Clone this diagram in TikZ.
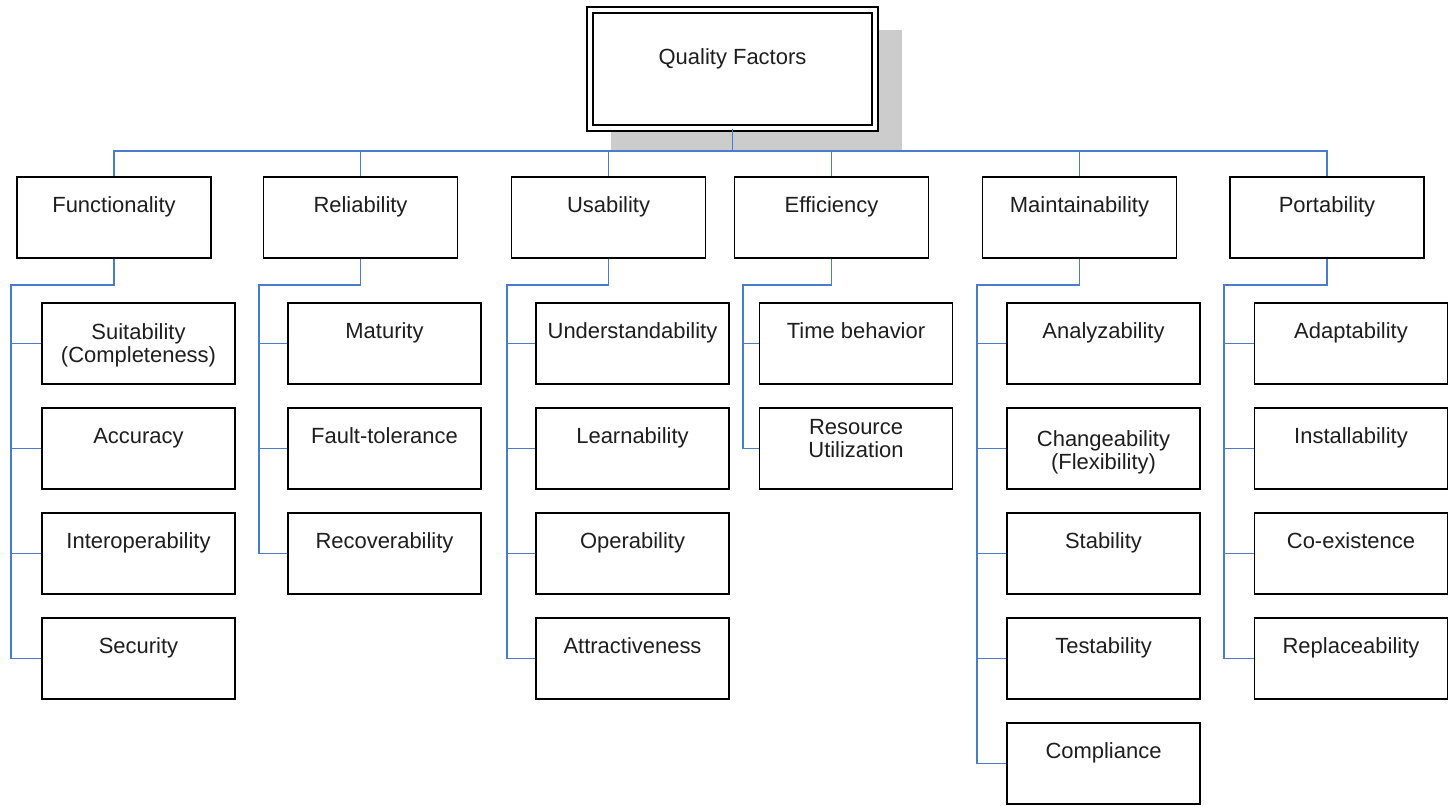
\documentclass[tikz,border=0pt]{standalone}
\usepackage{fontspec}
\setmainfont{Liberation Sans}
\usetikzlibrary{shadows}
\definecolor{linkblue}{RGB}{74,124,204}
\definecolor{shadowgray}{RGB}{204,204,204}
\definecolor{textgray}{RGB}{30,30,30}

\begin{document}
\begin{tikzpicture}[
  font=\fontsize{12.5}{12.8}\selectfont,
  box/.style={
    draw=black,
    line width=0.8pt,
    fill=white,
    inner sep=0pt,
    align=center,
    text=textgray
  },
  category/.style={
    box,
    minimum width=3.88cm,
    minimum height=1.62cm,
    text height=0.70cm,
    text depth=0.92cm
  },
  item/.style={
    box,
    minimum width=3.86cm,
    minimum height=1.62cm,
    text height=0.70cm,
    text depth=0.92cm
  },
  itemtwo/.style={
    item,
    text height=1.18cm,
    text depth=0.44cm
  },
  root/.style={
    box,
    double,
    line width=0.7pt,
    double distance=2.6pt,
    minimum width=5.7cm,
    minimum height=2.36cm,
    text height=1.08cm,
    text depth=1.28cm,
    general shadow={fill=shadowgray, shadow scale=1.02,
      shadow xshift=0.47cm, shadow yshift=-0.42cm}
  },
  link/.style={
    draw=linkblue,
    line width=1pt
  }
]
\useasboundingbox (0,0) rectangle (29,-16.1);

% Root
\node[root] (quality) at (14.65,-1.38) {Quality Factors};
\coordinate (bus) at (14.65,-3.02);

% Factors
\node[category] (functionality) at (2.28,-4.35) {Functionality};
\node[category] (reliability) at (7.21,-4.35) {Reliability};
\node[category] (usability) at (12.17,-4.35) {Usability};
\node[category] (efficiency) at (16.63,-4.35) {Efficiency};
\node[category] (maintainability) at (21.59,-4.35) {Maintainability};
\node[category] (portability) at (26.54,-4.35) {Portability};

% Functionality
\node[itemtwo] (suitability) at (2.77,-6.87) {Suitability\\(Completeness)};
\node[item] (accuracy) at (2.77,-8.97) {Accuracy};
\node[item] (interop) at (2.77,-11.07) {Interoperability};
\node[item] (security) at (2.77,-13.17) {Security};

% Reliability
\node[item] (maturity) at (7.69,-6.87) {Maturity};
\node[item] (faulttol) at (7.69,-8.97) {Fault-tolerance};
\node[item] (recoverab) at (7.69,-11.07) {Recoverability};

% Usability
\node[item] (understand) at (12.65,-6.87) {Understandability};
\node[item] (learnab) at (12.65,-8.97) {Learnability};
\node[item] (operab) at (12.65,-11.07) {Operability};
\node[item] (attract) at (12.65,-13.17) {Attractiveness};

% Efficiency
\node[item] (timebeh) at (17.12,-6.87) {Time behavior};
\node[itemtwo,text height=0.98cm,text depth=0.64cm] (resource) at (17.12,-8.97)
  {Resource\\Utilization};

% Maintainability
\node[item] (analyz) at (22.07,-6.87) {Analyzability};
\node[itemtwo,text height=1.22cm,text depth=0.40cm] (changeab) at (22.07,-8.97)
  {Changeability\\(Flexibility)};
\node[item] (stability) at (22.07,-11.07) {Stability};
\node[item] (testab) at (22.07,-13.17) {Testability};
\node[item] (compliance) at (22.07,-15.27) {Compliance};

% Portability
\node[item] (adaptab) at (27.02,-6.87) {Adaptability};
\node[item] (installab) at (27.02,-8.97) {Installability};
\node[item] (coexist) at (27.02,-11.07) {Co-existence};
\node[item] (replaceab) at (27.02,-13.17) {Replaceability};

% Root to factors
\draw[link] (quality.south) -- (bus);
\draw[link] (functionality.north) |- (bus);
\draw[link] (reliability.north) |- (bus);
\draw[link] (usability.north) |- (bus);
\draw[link] (efficiency.north) |- (bus);
\draw[link] (maintainability.north) |- (bus);
\draw[link] (portability.north) |- (bus);

% Factor spines
\draw[link] (functionality.south) -- ++(0,-0.52) -|
  ([xshift=-0.6cm]security.west);
\draw[link] (reliability.south) -- ++(0,-0.52) -|
  ([xshift=-0.56cm]recoverab.west);
\draw[link] (usability.south) -- ++(0,-0.52) -|
  ([xshift=-0.56cm]attract.west);
\draw[link] (efficiency.south) -- ++(0,-0.52) -|
  ([xshift=-0.32cm]resource.west);
\draw[link] (maintainability.south) -- ++(0,-0.52) -|
  ([xshift=-0.58cm]compliance.west);
\draw[link] (portability.south) -- ++(0,-0.52) -|
  ([xshift=-0.6cm]replaceab.west);

% Branches
\foreach \n in {suitability,accuracy,interop,security}
  \draw[link] (\n.west) -- ++(-0.6,0);
\foreach \n in {maturity,faulttol,recoverab,understand,learnab,operab,attract}
  \draw[link] (\n.west) -- ++(-0.56,0);
\foreach \n in {timebeh,resource}
  \draw[link] (\n.west) -- ++(-0.32,0);
\foreach \n in {analyz,changeab,stability,testab,compliance}
  \draw[link] (\n.west) -- ++(-0.58,0);
\foreach \n in {adaptab,installab,coexist,replaceab}
  \draw[link] (\n.west) -- ++(-0.6,0);

\end{tikzpicture}
\end{document}
